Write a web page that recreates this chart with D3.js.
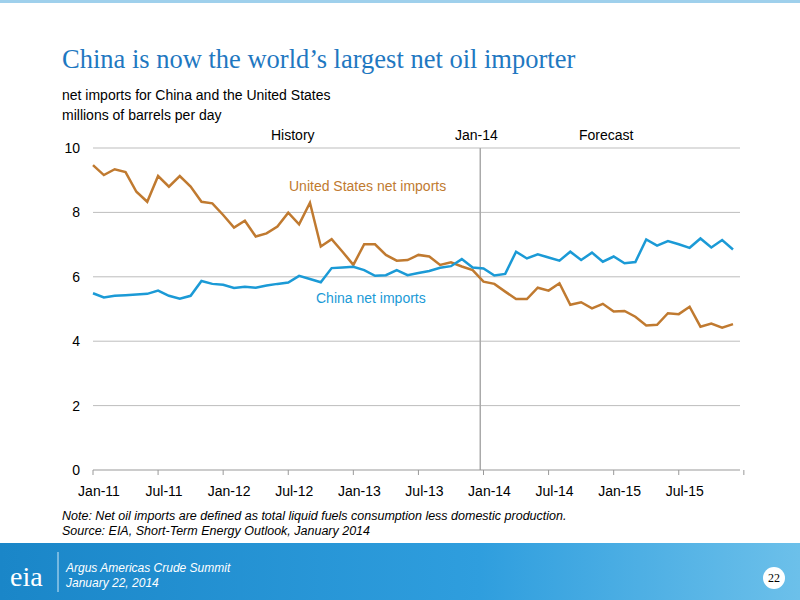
<!DOCTYPE html>
<html><head><meta charset="utf-8">
<script src="https://cdn.jsdelivr.net/npm/d3@7"></script>
<style>body{margin:0;background:#fff}text{font-family:Arial,"Liberation Sans",sans-serif}</style>
</head><body><div id="chart"></div>
<script>
const tickLabels = ["Jan-11","Jul-11","Jan-12","Jul-12","Jan-13","Jul-13","Jan-14","Jul-14","Jan-15","Jul-15"];
const usImports = [9.47,9.16,9.34,9.25,8.64,8.33,9.13,8.8,9.13,8.8,8.33,8.28,7.92,7.53,7.74,7.25,7.35,7.56,7.99,7.63,8.3,6.94,7.17,6.78,6.37,7.01,7.01,6.68,6.5,6.52,6.68,6.63,
  6.37,6.45,6.32,6.21,5.85,5.78,5.54,5.31,5.31,5.66,5.57,5.80,5.13,5.21,5.02,5.16,4.92,4.94,4.76,4.49,4.51,4.87,4.84,5.07,4.45,4.55,4.42,4.53];
const chinaImports = [5.49,5.36,5.41,5.43,5.45,5.47,5.57,5.41,5.32,5.41,5.87,5.78,5.75,5.65,5.69,5.66,5.73,5.78,5.82,6.03,5.93,5.83,6.27,6.29,6.31,6.21,6.03,6.05,6.21,6.05,6.12,6.18,
  6.28,6.33,6.55,6.29,6.26,6.04,6.09,6.78,6.57,6.70,6.60,6.50,6.78,6.52,6.75,6.47,6.63,6.42,6.46,7.16,6.97,7.11,7.01,6.9,7.19,6.91,7.14,6.85];
const yTicks = [0,2,4,6,8,10];
const SERIF = "'Times New Roman','Liberation Serif',serif";

const svg = d3.select("#chart").append("svg").attr("width",800).attr("height",600);

// footer band
const grad = svg.append("defs").append("linearGradient").attr("id","band");
grad.append("stop").attr("offset","0%").attr("stop-color","#1a86c8");
grad.append("stop").attr("offset","60%").attr("stop-color","#2f9ede");
grad.append("stop").attr("offset","100%").attr("stop-color","#6cc0ea");
svg.append("rect").attr("x",0).attr("y",0).attr("width",800).attr("height",3).attr("fill","#9fd0ec");
svg.append("rect").attr("x",0).attr("y",543).attr("width",800).attr("height",57).attr("fill","url(#band)");
svg.append("text").attr("x",10).attr("y",586).attr("fill","#fff").style("font-family",SERIF).attr("font-size",28).text("eia");
svg.append("line").attr("x1",58).attr("x2",58).attr("y1",552).attr("y2",592).attr("stroke","#cfe8f7");
svg.append("text").attr("x",66).attr("y",572).attr("fill","#fff").attr("font-size",12).attr("font-style","italic").text("Argus Americas Crude Summit");
svg.append("text").attr("x",66).attr("y",587).attr("fill","#fff").attr("font-size",12).attr("font-style","italic").text("January 22, 2014");
svg.append("circle").attr("cx",774).attr("cy",578).attr("r",11).attr("fill","#fff");
svg.append("text").attr("x",774).attr("y",582).attr("text-anchor","middle").attr("font-size",12).style("font-family",SERIF).text("22");

svg.append("text").attr("x",62).attr("y",68).attr("fill","#1f78c1").attr("font-size",26.5)
  .style("font-family",SERIF).text("China is now the world\u2019s largest net oil importer");
svg.append("text").attr("x",62).attr("y",100).attr("font-size",14).text("net imports for China and the United States");
svg.append("text").attr("x",62).attr("y",120).attr("font-size",14).text("millions of barrels per day");

const x = d3.scaleLinear().domain([0,59]).range([93,733]);
const y = d3.scaleLinear().domain([0,10]).range([470,148]);

svg.append("g").selectAll("line").data(yTicks.filter(d=>d>0)).join("line")
  .attr("x1",93).attr("x2",740).attr("y1",d=>y(d)).attr("y2",d=>y(d)).attr("stroke","#bdbdbd");
svg.append("g").selectAll("text").data(yTicks).join("text")
  .attr("x",80).attr("y",d=>y(d)+5).attr("text-anchor","end").attr("font-size",14).text(d=>d);

svg.append("line").attr("x1",x(35.7)).attr("x2",x(35.7)).attr("y1",148).attr("y2",470).attr("stroke","#aaa").attr("stroke-width",1.5);

const xa = svg.append("g");
xa.append("line").attr("x1",93).attr("x2",740).attr("y1",470).attr("y2",470).attr("stroke","#999");
xa.selectAll("line.t").data(d3.range(0,61,6)).join("line").attr("class","t")
  .attr("x1",d=>x(d)).attr("x2",d=>x(d)).attr("y1",470).attr("y2",475).attr("stroke","#999");
xa.selectAll("text").data(tickLabels).join("text")
  .attr("x",(d,i)=>x(i*6)+6).attr("y",496).attr("text-anchor","middle").attr("font-size",14).text(d=>d);

const line = d3.line().x((d,i)=>x(i)).y(d=>y(d));
svg.append("path").datum(usImports).attr("d",line).attr("fill","none").attr("stroke","#c07a30").attr("stroke-width",2.5);
svg.append("path").datum(chinaImports).attr("d",line).attr("fill","none").attr("stroke","#1b9ad6").attr("stroke-width",2.5);

svg.append("text").attr("x",289).attr("y",191).attr("fill","#c07a30").attr("font-size",14).text("United States net imports");
svg.append("text").attr("x",316).attr("y",303).attr("fill","#1b9ad6").attr("font-size",14).text("China net imports");
svg.append("text").attr("x",271).attr("y",140).attr("font-size",14).text("History");
svg.append("text").attr("x",455).attr("y",140).attr("font-size",14).text("Jan-14");
svg.append("text").attr("x",579).attr("y",140).attr("font-size",14).text("Forecast");

svg.append("text").attr("x",62).attr("y",520).attr("font-size",12.5).attr("font-style","italic").text("Note: Net oil imports are defined as total liquid fuels consumption less domestic production.");
svg.append("text").attr("x",62).attr("y",535).attr("font-size",12.5).attr("font-style","italic").text("Source:  EIA, Short-Term Energy Outlook, January 2014");
</script></body></html>
